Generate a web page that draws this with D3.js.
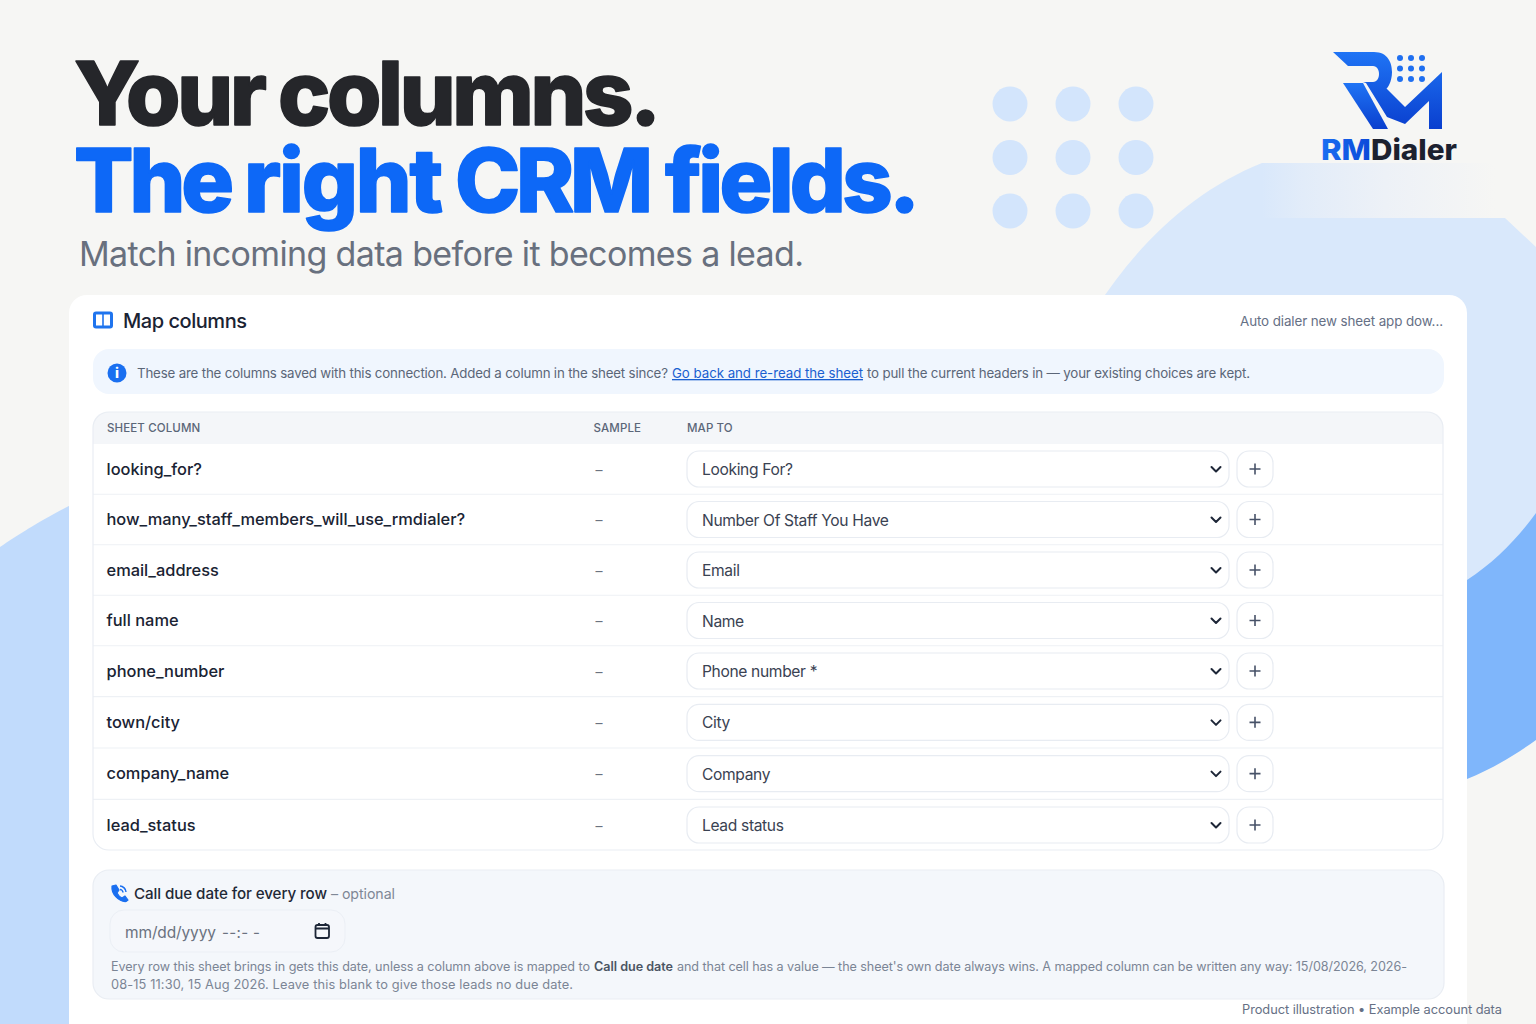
<!DOCTYPE html>
<html lang="en"><head><meta charset="utf-8"><title>Map columns</title>
<script src="https://cdn.jsdelivr.net/npm/d3@7"></script>
<style>html,body{margin:0;padding:0;background:#f6f6f4}svg{display:block}text{font-family:Inter,"Noto Sans",sans-serif;white-space:pre}</style>
</head><body><div id="chart"></div>
<script>
const sheetColumns=["looking_for?","how_many_staff_members_will_use_rmdialer?","email_address","full name","phone_number","town/city","company_name","lead_status"];
const sampleValues=["–","–","–","–","–","–","–","–"];
const mapTargets=["Looking For?","Number Of Staff You Have","Email","Name","Phone number *","City","Company","Lead status"];
const tableHeaders=["SHEET COLUMN","SAMPLE","MAP TO"];
const titleWordsA=["Your","columns."];
const titleWordsB=["The","right","CRM","fields."];
const dotColumns=[0,1,2];
const dotRows=[0,1,2];

const svg=d3.select("#chart").append("svg").attr("width",1536).attr("height",1024).attr("viewBox","0 0 1536 1024");
const defs=svg.append("defs");
function grad(id,x1,y1,x2,y2,stops){const g=defs.append("linearGradient").attr("id",id).attr("x1",x1).attr("y1",y1).attr("x2",x2).attr("y2",y2);stops.forEach(s=>g.append("stop").attr("offset",s[0]).attr("stop-color",s[1]));}
grad("fade",0,0,1,0,[[0,"#d9e8fb"],[.15,"#e2ecf9"],[.45,"#edf1f7"],[.85,"#f6f6f4"],[1,"#f6f6f4"]]);
grad("logo",0,0,0,1,[[0,"#1f74f5"],[1,"#0a3fce"]]);
grad("rm",0,0,1,0,[[0,"#1a6ff2"],[1,"#0b48d8"]]);

function txt(g,x,y,s,size,fill,weight,extra){const t=g.append("text").attr("x",x).attr("y",y).attr("font-size",size).attr("fill",fill).attr("font-weight",weight||400).text(s);if(extra)Object.entries(extra).forEach(([k,v])=>t.attr(k,v));return t;}
/* set letter spacing so that a text spans the given width */
function fit(t,width){const w=t.node().getComputedTextLength();const n=t.text().length;t.attr("letter-spacing",((width-w)/Math.max(1,n-1)).toFixed(3));return t;}

/* background */
const bg=svg.append("g");
bg.append("rect").attr("width",1536).attr("height",1024).attr("fill","#f6f6f4");
bg.append("path").attr("d","M1262,163 L1536,163 L1536,218 L1262,218 Z").attr("fill","url(#fade)");
bg.append("path").attr("d","M1095,310 C1140,240 1195,190 1262,163 L1262,218 L1505,218 L1536,247 L1536,620 L1095,620 Z").attr("fill","#d9e8fb");
bg.append("path").attr("d","M1400,640 L1467,580 C1495,562 1518,538 1536,513 L1536,740 C1515,755 1492,769 1467,779 L1400,790 Z").attr("fill","#7fb6fb");
bg.append("path").attr("d","M0,1024 L0,547 C25,530 48,516 100,490 L100,1024 Z").attr("fill","#c1dbfc");

/* decorative dots */
const dx=d3.scalePoint().domain(dotColumns).range([1010,1136]);
const dy=d3.scalePoint().domain(dotRows).range([104,211]);
bg.selectAll("g.dr").data(dotRows).join("g").attr("class","dr").selectAll("circle").data(r=>dotColumns.map(c=>[c,r])).join("circle")
  .attr("cx",d=>dx(d[0])).attr("cy",d=>dy(d[1])).attr("r",17.5).attr("fill","#d3e5fc");

/* headline */
const head=svg.append("g");
const wordX=d3.scaleOrdinal().domain(titleWordsA.concat(titleWordsB)).range([74,278,74,244,455,665]);
const wordW=d3.scaleOrdinal().domain(titleWordsA.concat(titleWordsB)).range([193,383,160,199,198,255]);
titleWordsA.forEach(w=>fit(txt(head,wordX(w),125,w,88,"#25262a",800,{stroke:"#25262a","stroke-width":1.6,"stroke-linejoin":"round"}),wordW(w)));
titleWordsB.forEach(w=>fit(txt(head,wordX(w),212,w,88,"#0d68f7",800,{stroke:"#0d68f7","stroke-width":1.6,"stroke-linejoin":"round"}),wordW(w)));
fit(txt(head,79,266,"Match incoming data before it becomes a lead.",34,"#68707e",400),725);

/* logo */
const logo=svg.append("g");
logo.append("path").attr("fill","url(#logo)").attr("d","M1333,52 L1374,52 C1388,52 1392,63 1392,72 C1392,83 1386,91 1386,88 L1405,107 L1442,72 L1442,129 L1429,129 L1429,101 L1405,124 L1387,117 L1366,83 L1363,82 L1373,82 C1381,82 1381,66 1373,66 L1348,66 Z");
logo.append("path").attr("fill","url(#logo)").attr("d","M1343,83 L1363,83 L1388,129 L1373,129 Z");
const lx=d3.scalePoint().domain(dotColumns).range([1400,1422]);
const ly=d3.scalePoint().domain(dotRows).range([58,79]);
logo.selectAll("g").data(dotRows).join("g").selectAll("circle").data(r=>dotColumns.map(c=>[c,r])).join("circle")
  .attr("cx",d=>lx(d[0])).attr("cy",d=>ly(d[1])).attr("r",3).attr("fill","#1f6ff0");
txt(logo,1321,160,"RM",28.5,"url(#rm)",800,{textLength:50,lengthAdjust:"spacingAndGlyphs"});
txt(logo,1371,160,"Dialer",28.5,"#1c2130",800,{textLength:86,lengthAdjust:"spacingAndGlyphs"});

/* card */
const card=svg.append("g");
card.append("rect").attr("x",69).attr("y",295).attr("width",1398).attr("height",760).attr("rx",18).attr("fill","#ffffff");
card.append("rect").attr("x",93).attr("y",311.5).attr("width",20).attr("height",17).attr("rx",3).attr("fill","#1f74ee");
card.append("rect").attr("x",96).attr("y",314.5).attr("width",6.2).attr("height",11).attr("fill","#fff");
card.append("rect").attr("x",103.8).attr("y",314.5).attr("width",6.2).attr("height",11).attr("fill","#fff");
fit(txt(card,123,328,"Map columns",20,"#1a2333",500),124);
fit(txt(card,1240,326,"Auto dialer new sheet app dow...",13.4,"#667085",400),203);

/* notice */
card.append("rect").attr("x",93).attr("y",349).attr("width",1351).attr("height",45).attr("rx",16).attr("fill","#f0f6fe");
card.append("circle").attr("cx",117).attr("cy",373).attr("r",9.5).attr("fill","#1a6ff0");
txt(card,117,378,"i",14,"#fff",800,{"text-anchor":"middle"});
fit(txt(card,137,378,"These are the columns saved with this connection. Added a column in the sheet since?",13.3,"#5b6678",400),531);
fit(txt(card,672,378,"Go back and re-read the sheet",13.3,"#1a5fd0",400,{"text-decoration":"underline"}),191);
fit(txt(card,867,378,"to pull the current headers in — your existing choices are kept.",13.3,"#5b6678",400),383);

/* table */
const tbl=svg.append("g");
tbl.append("path").attr("d","M93,444 L93,428 Q93,412 109,412 L1427,412 Q1443,412 1443,428 L1443,444 Z").attr("fill","#f4f6f9");
const rowIndex=d3.scaleLinear().domain([0,4,7]).range([469,671,825]);
const rowY=c=>rowIndex(sheetColumns.indexOf(c));
const rowGap=c=>(rowIndex(sheetColumns.indexOf(c))+rowIndex(sheetColumns.indexOf(c)+1))/2;
const headerX=d3.scaleOrdinal().domain(tableHeaders).range([107,593.5,687]);
tbl.selectAll("text.h").data(tableHeaders).join("text").attr("class","h").attr("x",d=>headerX(d)).attr("y",431.5).attr("font-size",11.5).attr("font-weight",500).attr("letter-spacing",.12).attr("fill","#5b6678").text(d=>d);
tbl.selectAll("line.sep").data(sheetColumns.slice(0,-1)).join("line").attr("class","sep").attr("x1",93).attr("x2",1443)
  .attr("y1",d=>rowGap(d)).attr("y2",d=>rowGap(d)).attr("stroke","#eef1f5").attr("stroke-width",1.2);
tbl.append("rect").attr("x",93).attr("y",412).attr("width",1350).attr("height",438).attr("rx",16).attr("fill","none").attr("stroke","#e9edf3").attr("stroke-width",1.2);
const rows=tbl.selectAll("g.row").data(sheetColumns.map((c,i)=>({c,s:sampleValues[i],m:mapTargets[i]}))).join("g").attr("class","row").attr("transform",d=>`translate(0,${rowY(d.c)})`);
rows.append("text").attr("x",106.5).attr("y",5.5).attr("font-size",16.4).attr("font-weight",500).attr("fill","#1a2333").text(d=>d.c);
rows.append("text").attr("x",599).attr("y",5.5).attr("text-anchor","middle").attr("font-size",14).attr("fill","#6b7280").text(d=>d.s);
rows.append("rect").attr("x",687).attr("y",-18).attr("width",542).attr("height",36).attr("rx",12).attr("fill","#fff").attr("stroke","#e8ecf2").attr("stroke-width",1.2);
rows.append("text").attr("x",702).attr("y",6).attr("font-size",15.6).attr("letter-spacing",-.35).attr("fill","#3a4252").text(d=>d.m);
rows.append("path").attr("d","M1211.5,-2 L1216,2.5 L1220.5,-2").attr("fill","none").attr("stroke","#1d2637").attr("stroke-width",2).attr("stroke-linecap","round").attr("stroke-linejoin","round");
rows.append("rect").attr("x",1237).attr("y",-18).attr("width",36).attr("height",36).attr("rx",12).attr("fill","#fff").attr("stroke","#e8ecf2").attr("stroke-width",1.2);
rows.append("path").attr("d","M1255,-5.5 V5.5 M1249.5,0 H1260.5").attr("stroke","#475268").attr("stroke-width",1.6).attr("fill","none");

/* bottom panel */
const pan=svg.append("g");
pan.append("rect").attr("x",93).attr("y",870).attr("width",1351).attr("height",129).attr("rx",16).attr("fill","#f4f7fb").attr("stroke","#e9edf3").attr("stroke-width",1.2);
pan.append("path").attr("d","M112,886 L116,885 L119,890 L117,893 C118,895 120,897 122,898 L125,896 L128,900 L126,901.5 C119,902 111,894 112,886 Z").attr("fill","#1a6ff0").attr("stroke","#1a6ff0").attr("stroke-width",1.2).attr("stroke-linejoin","round");
pan.append("path").attr("d","M120,886 C123,886 126,889 126,892 M120,889.5 C121.5,889.5 123,891 123,892.5").attr("fill","none").attr("stroke","#1a6ff0").attr("stroke-width",1.5);
fit(txt(pan,134,898.5,"Call due date for every row",15.2,"#1f2937",500),193);
fit(txt(pan,331,898.5,"– optional",14.2,"#7f8896",400),64);
pan.append("rect").attr("x",110).attr("y",910).attr("width",235).attr("height",42).attr("rx",14).attr("fill","#f5f7fb").attr("stroke","#ebeff5");
fit(txt(pan,125,938,"mm/dd/yyyy",15.5,"#6b7280",400),91);
fit(txt(pan,222,938,"--:- -",15,"#6b7280",400),38);
pan.append("rect").attr("x",315.5).attr("y",925).attr("width",13.5).attr("height",13).attr("rx",2).attr("fill","none").attr("stroke","#1d2637").attr("stroke-width",1.8);
pan.append("path").attr("d","M315.5,928.5 H329 M319,923 V926 M325.5,923 V926").attr("stroke","#1d2637").attr("stroke-width",1.8);
fit(txt(pan,111,971,"Every row this sheet brings in gets this date, unless a column above is mapped to",12.6,"#7b8595",400),479);
fit(txt(pan,594,971,"Call due date",12.6,"#4b5563",600),79);
fit(txt(pan,677,971,"and that cell has a value — the sheet's own date always wins. A mapped column can be written any way: 15/08/2026, 2026-",12.6,"#7b8595",400),730);
fit(txt(pan,111,989,"08-15 11:30, 15 Aug 2026. Leave this blank to give those leads no due date.",12.8,"#7b8595",400),462);
fit(txt(svg,1242,1014,"Product illustration • Example account data",12.8,"#667085",400),260);
</script></body></html>
